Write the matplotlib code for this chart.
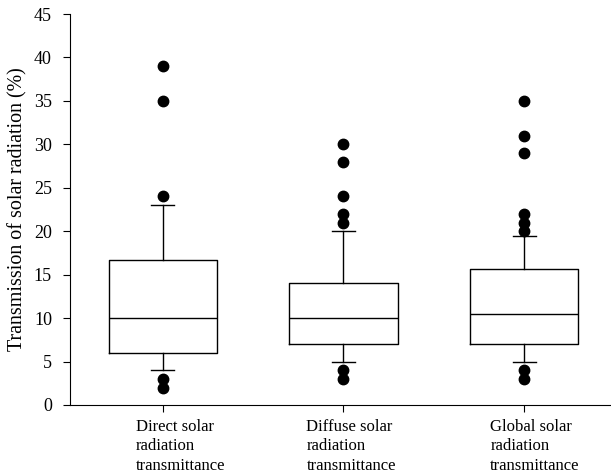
import numpy as np
import matplotlib.pyplot as plt
import matplotlib.transforms as mtransforms

plt.rcParams['font.family'] = ['Liberation Serif', 'DejaVu Serif']

labels = ["Direct solar\nradiation\ntransmittance",
          "Diffuse solar\nradiation\ntransmittance",
          "Global solar\nradiation\ntransmittance"]
medians = [10.0, 10.0, 10.5]
q1 = [6.0, 7.0, 7.0]
q3 = [16.7, 14.0, 15.7]
whislo = [4.0, 5.0, 5.0]
whishi = [23.0, 20.0, 19.5]
fliers = [[39, 35, 24, 3, 2],
          [30, 28, 24, 22, 21, 4, 3],
          [35, 31, 29, 22, 21, 20, 4, 3]]

stats = []
for i in range(3):
    stats.append(dict(med=medians[i], q1=q1[i], q3=q3[i],
                      whislo=whislo[i], whishi=whishi[i], fliers=fliers[i]))

fig = plt.figure(figsize=(6.11, 4.73), dpi=100)
ax = fig.add_axes([70 / 611, 0.1438, 1 - 70 / 611, 0.8266])

ax.bxp(stats, positions=[1, 2, 3], widths=0.6, showfliers=True,
       boxprops=dict(color='black', linewidth=1),
       medianprops=dict(color='black', linewidth=1),
       whiskerprops=dict(color='black', linewidth=1),
       capprops=dict(color='black', linewidth=1),
       capwidths=0.125,
       flierprops=dict(marker='o', markerfacecolor='black',
                       markeredgecolor='black', markersize=7.5))

ax.set_xlim(0.487, 3.48)
ax.set_ylim(0, 45)
ax.set_yticks(np.arange(0, 46, 5))
ax.set_xticks([1, 2, 3])
ax.set_xticklabels(labels, fontsize=12, ha='left', linespacing=1.3)
ax.tick_params(axis='y', labelsize=13, direction='out', length=5, pad=8)
ax.tick_params(axis='x', direction='out', length=5, pad=5)
ax.set_ylabel("Transmission of solar radiation (%)", fontsize=14.4)
ax.yaxis.set_label_coords(-0.079, 0.5)

# labels sit left-aligned, shifted left of each tick
shifts = [-27, -37, -34]
for lab, dx in zip(ax.get_xticklabels(), shifts):
    off = mtransforms.ScaledTranslation(dx / 100, 0, fig.dpi_scale_trans)
    lab.set_transform(lab.get_transform() + off)

ax.spines['top'].set_visible(False)
ax.spines['right'].set_visible(False)

fig.savefig("out.png", dpi=100)
